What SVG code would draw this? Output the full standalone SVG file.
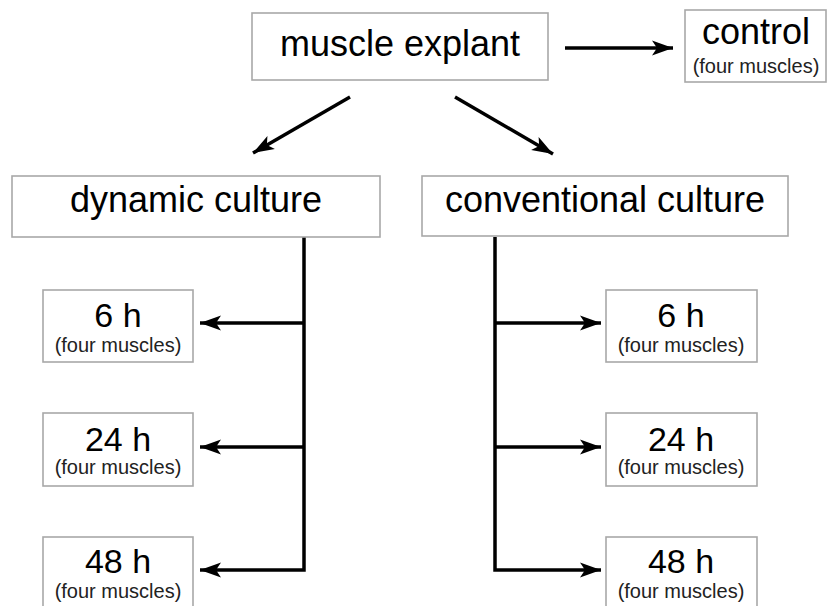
<svg xmlns="http://www.w3.org/2000/svg" width="830" height="606" viewBox="0 0 830 606">
<style>
.box{fill:#fff;stroke:#a8a8a8;stroke-width:1.6}
.big{font-family:"Liberation Sans",Arial,sans-serif;font-size:36px;fill:#000;text-anchor:middle}
.hr{font-family:"Liberation Sans",Arial,sans-serif;font-size:34px;fill:#000;text-anchor:middle}
.sm{font-family:"Liberation Sans",Arial,sans-serif;font-size:20px;fill:#222;text-anchor:middle}
.ln{stroke:#000;stroke-width:3.5;fill:none}
</style>
<defs>
<marker id="ah" markerUnits="userSpaceOnUse" markerWidth="22" markerHeight="18" refX="21" refY="9" orient="auto">
<path d="M0,1.5 L21,9 L0,16.5 L5,9 z" fill="#000"/>
</marker>
</defs>
<rect width="830" height="606" fill="#fff"/>
<g id="connectors">
<line class="ln" x1="565" y1="48" x2="673" y2="48" marker-end="url(#ah)"/>
<line class="ln" x1="350" y1="97" x2="253" y2="153" marker-end="url(#ah)"/>
<line class="ln" x1="455" y1="97" x2="553" y2="154" marker-end="url(#ah)"/>
<path class="ln" d="M304,237 V570 H200" marker-end="url(#ah)"/>
<line class="ln" x1="304" y1="323" x2="200" y2="323" marker-end="url(#ah)"/>
<line class="ln" x1="304" y1="447" x2="200" y2="447" marker-end="url(#ah)"/>
<path class="ln" d="M495,237 V570 H601" marker-end="url(#ah)"/>
<line class="ln" x1="495" y1="323" x2="601" y2="323" marker-end="url(#ah)"/>
<line class="ln" x1="495" y1="447" x2="601" y2="447" marker-end="url(#ah)"/>
</g>
<g id="muscle-explant">
<rect class="box" x="252" y="13" width="296" height="67"/>
<text class="big" x="400" y="56">muscle explant</text>
</g>
<g id="control">
<rect class="box" x="685" y="10" width="141" height="72"/>
<text class="big" x="756" y="44">control</text>
<text class="sm" x="756" y="73">(four muscles)</text>
</g>
<g id="dynamic-culture">
<rect class="box" x="12" y="176" width="368" height="61"/>
<text class="big" x="196" y="212">dynamic culture</text>
</g>
<g id="conventional-culture">
<rect class="box" x="422" y="176" width="366" height="60"/>
<text class="big" x="605" y="212">conventional culture</text>
</g>
<g id="dyn-6h">
<rect class="box" x="43" y="290" width="150" height="72"/>
<text class="hr" x="118" y="327">6 h</text>
<text class="sm" x="118" y="352">(four muscles)</text>
</g>
<g id="dyn-24h">
<rect class="box" x="43" y="413" width="150" height="73"/>
<text class="hr" x="118" y="451">24 h</text>
<text class="sm" x="118" y="474">(four muscles)</text>
</g>
<g id="dyn-48h">
<rect class="box" x="43" y="537" width="150" height="75"/>
<text class="hr" x="118" y="573">48 h</text>
<text class="sm" x="118" y="598">(four muscles)</text>
</g>
<g id="conv-6h">
<rect class="box" x="606" y="290" width="151" height="72"/>
<text class="hr" x="681" y="327">6 h</text>
<text class="sm" x="681" y="352">(four muscles)</text>
</g>
<g id="conv-24h">
<rect class="box" x="606" y="413" width="151" height="73"/>
<text class="hr" x="681" y="451">24 h</text>
<text class="sm" x="681" y="474">(four muscles)</text>
</g>
<g id="conv-48h">
<rect class="box" x="606" y="537" width="151" height="75"/>
<text class="hr" x="681" y="573">48 h</text>
<text class="sm" x="681" y="598">(four muscles)</text>
</g>
</svg>
